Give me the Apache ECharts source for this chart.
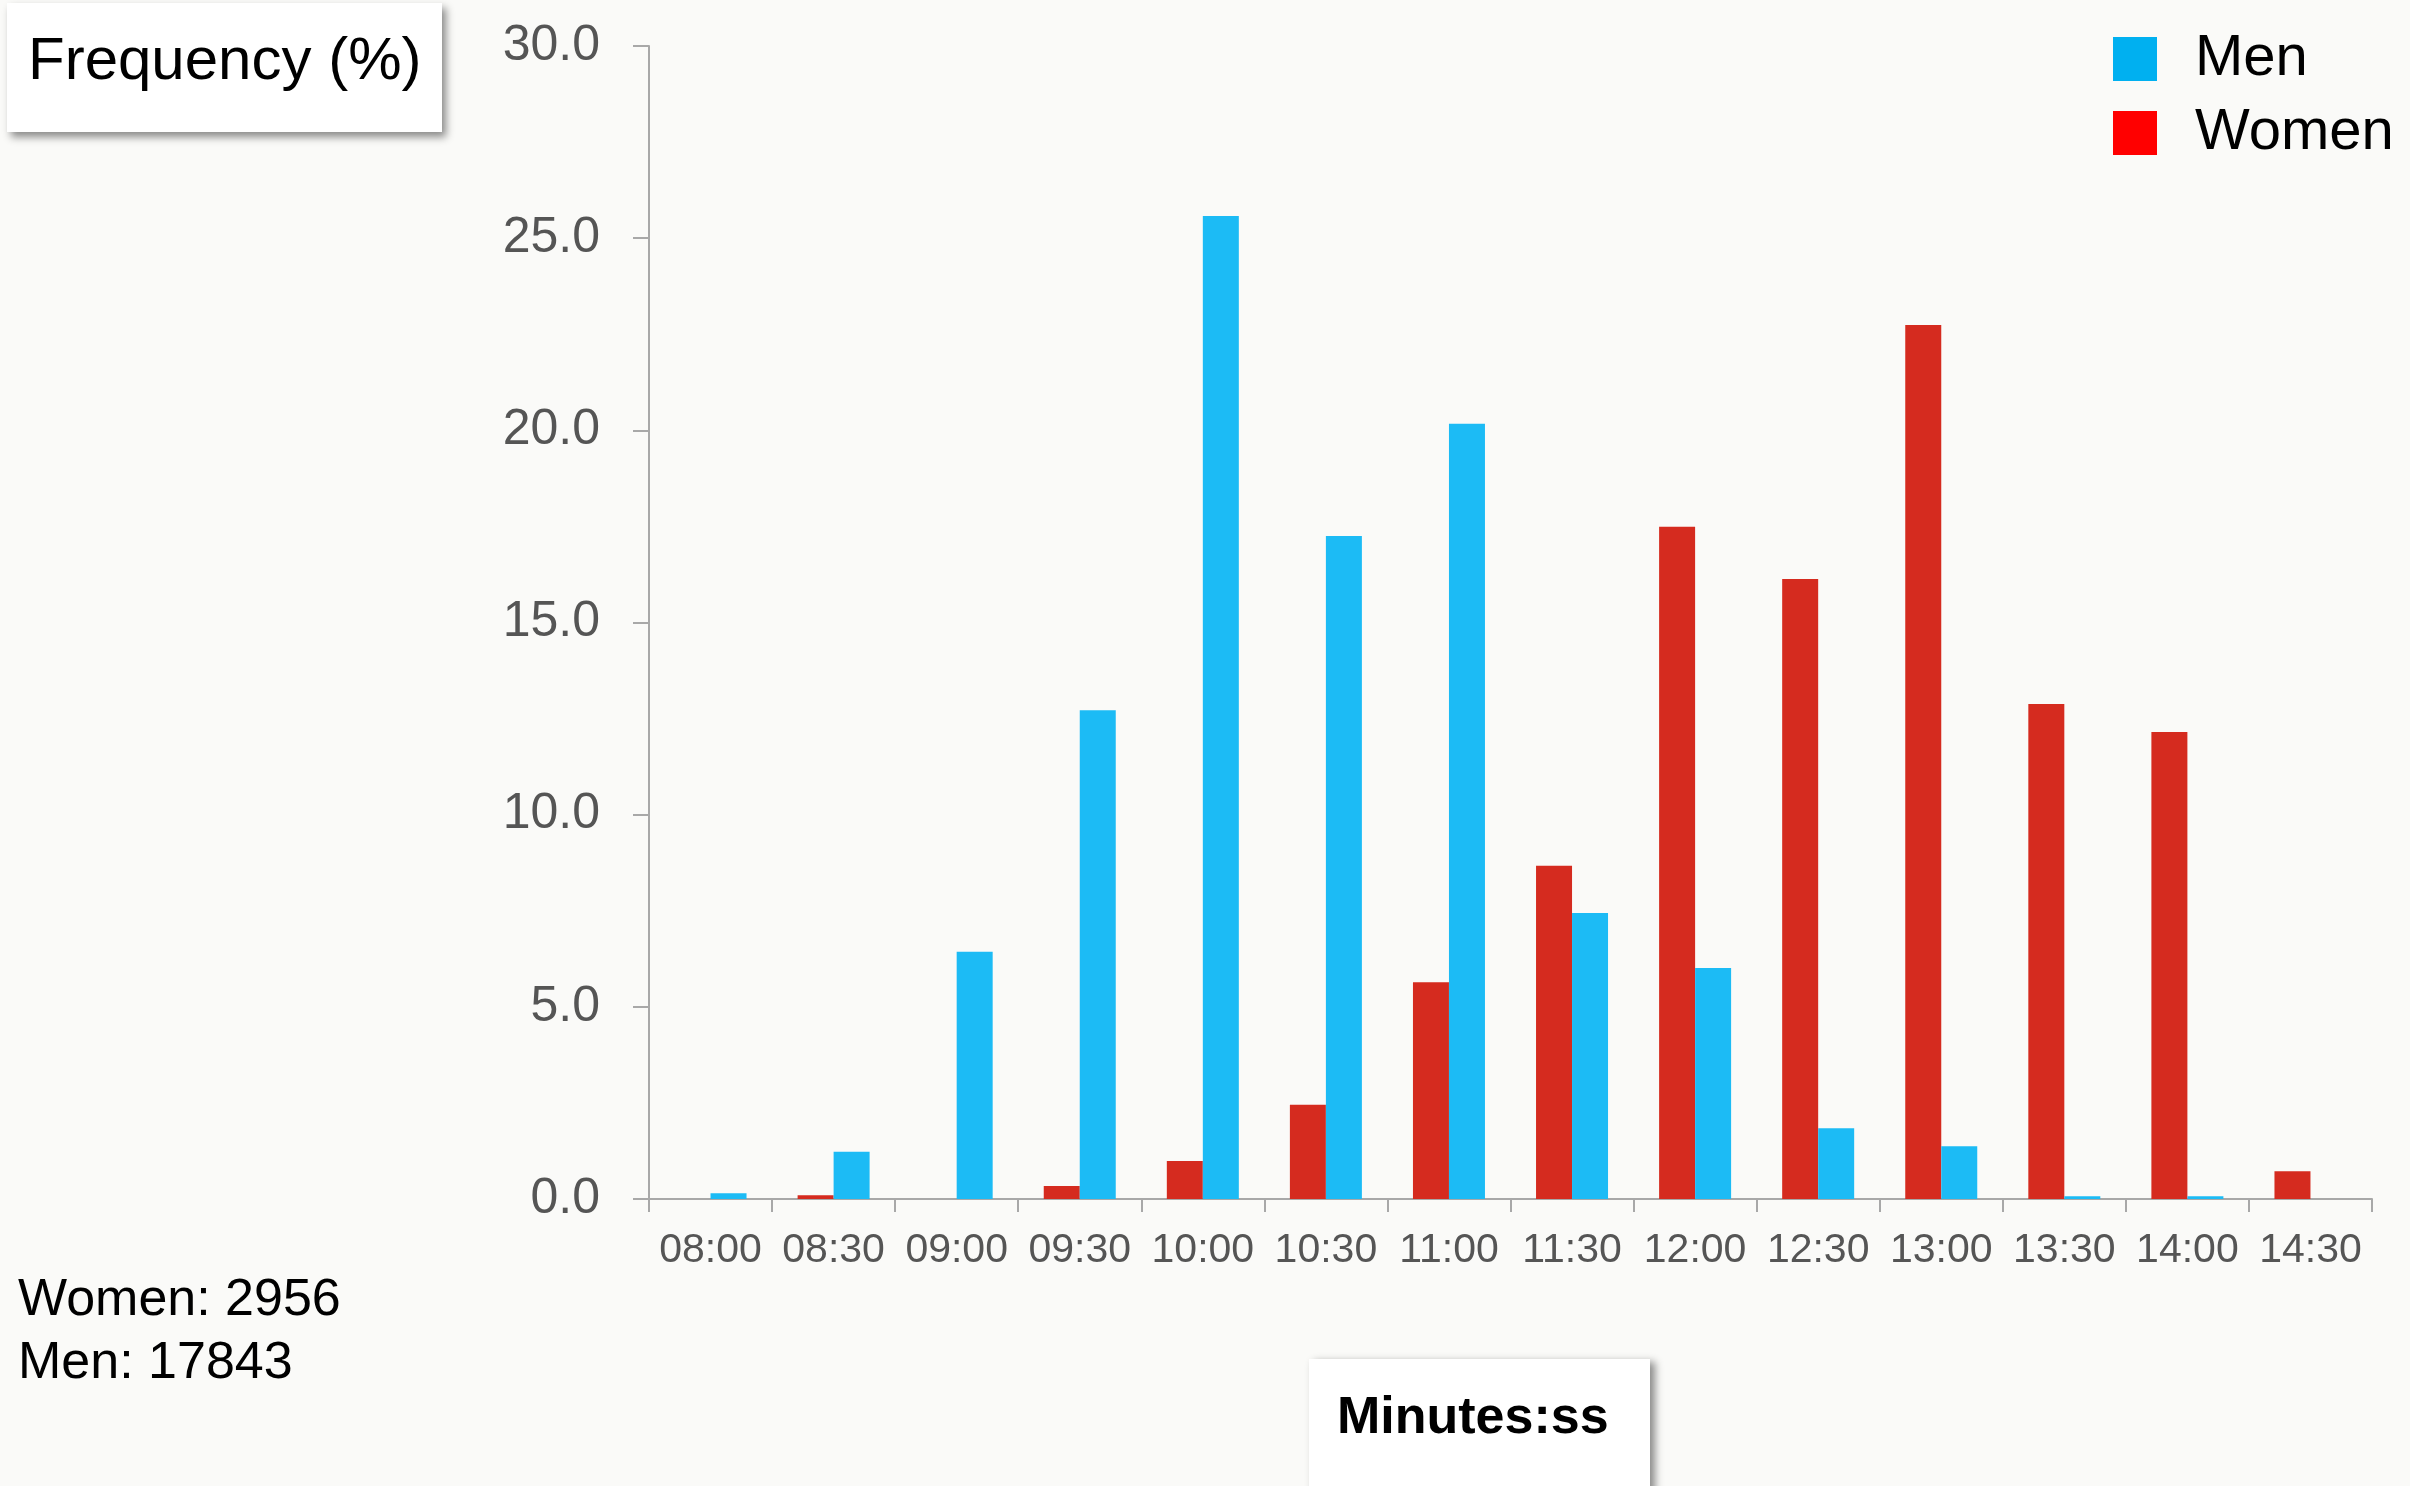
<!DOCTYPE html>
<html>
<head>
<meta charset="utf-8">
<script src="https://cdn.jsdelivr.net/npm/echarts@6/dist/echarts.min.js"></script>
<style>
html,body{margin:0;padding:0;background:#FAFAF8;}
#chart{width:2410px;height:1486px;}
</style>
</head>
<body>
<div id="chart"></div>
<script>
const categories = ['08:00','08:30','09:00','09:30','10:00','10:30','11:00','11:30','12:00','12:30','13:00','13:30','14:00','14:30'];
const menValues   = [0.15, 1.23, 6.43, 12.72, 25.58, 17.25, 20.17, 7.44, 6.01, 1.84, 1.37, 0.07, 0.07, 0];
const womenValues = [0, 0.1, 0, 0.34, 0.99, 2.45, 5.64, 8.67, 17.49, 16.13, 22.74, 12.88, 12.15, 0.72];
const yMin = 0, yMax = 30, yStep = 5;
const seriesNames = ['Men', 'Women'];
const countLines = ['Women: 2956', 'Men: 17843'];
const yTitle = 'Frequency (%)';
const xTitle = 'Minutes:ss';

const FONT = '"Liberation Sans", Arial, sans-serif';
const chart = echarts.init(document.getElementById('chart'), null, {renderer: 'canvas'});

chart.setOption({
  backgroundColor: '#FAFAF8',
  animation: false,
  textStyle: {fontFamily: FONT},
  grid: {left: 649, right: 38, top: 46, bottom: 287, containLabel: false},
  legend: {
    orient: 'vertical',
    left: 2113,
    top: 30,
    padding: 0,
    itemWidth: 44,
    itemHeight: 44,
    itemGap: 16,
    selectedMode: false,
    icon: 'rect',
    textStyle: {fontSize: 58, color: '#000', fontFamily: FONT, padding: [0, 0, 0, 33]},
    data: [
      {name: seriesNames[0], itemStyle: {color: '#00B0F0'}},
      {name: seriesNames[1], itemStyle: {color: '#FF0000'}}
    ]
  },
  xAxis: {
    type: 'category',
    data: categories,
    boundaryGap: true,
    axisLine: {lineStyle: {color: '#A8A8A8', width: 2}},
    axisTick: {show: true, length: 13, alignWithLabel: false, lineStyle: {color: '#A8A8A8', width: 2}},
    axisLabel: {
      interval: 0,
      margin: 31,
      fontSize: 41,
      fontFamily: FONT,
      color: '#555555'
    },
    splitLine: {show: false}
  },
  yAxis: {
    type: 'value',
    min: yMin,
    max: yMax,
    interval: yStep,
    axisLine: {show: true, lineStyle: {color: '#A8A8A8', width: 2}},
    axisTick: {show: true, length: 16, lineStyle: {color: '#A8A8A8', width: 2}},
    axisLabel: {
      margin: 49,
      fontSize: 50,
      fontFamily: FONT,
      color: '#555555',
      padding: [6, 0, 0, 0],
      formatter: v => v.toFixed(1)
    },
    splitLine: {show: false}
  },
  series: [
    {
      name: seriesNames[1],
      type: 'bar',
      data: womenValues,
      barWidth: 36,
      barGap: '0%',
      itemStyle: {color: '#D52B1F'}
    },
    {
      name: seriesNames[0],
      type: 'bar',
      data: menValues,
      barWidth: 36,
      barGap: '0%',
      itemStyle: {color: '#1CBBF5'}
    }
  ],
  graphic: [
    {
      type: 'rect',
      shape: {x: 7, y: 3, width: 435, height: 129},
      style: {fill: '#FFFFFF', shadowBlur: 8, shadowOffsetX: 4, shadowOffsetY: 5, shadowColor: 'rgba(0,0,0,0.45)'},
      z: 10
    },
    {
      type: 'text',
      style: {x: 28, y: 62, text: yTitle, fontSize: 60, fontFamily: FONT, fill: '#000', align: 'left', verticalAlign: 'middle'},
      z: 11
    },
    {
      type: 'rect',
      shape: {x: 1309, y: 1359, width: 341, height: 150},
      style: {fill: '#FFFFFF', shadowBlur: 8, shadowOffsetX: 5, shadowOffsetY: 3, shadowColor: 'rgba(0,0,0,0.45)'},
      z: 10
    },
    {
      type: 'text',
      style: {x: 1337, y: 1419, text: xTitle, fontSize: 52, fontWeight: 'bold', fontFamily: FONT, fill: '#000', align: 'left', verticalAlign: 'middle'},
      z: 11
    },
    {
      type: 'text',
      style: {x: 18, y: 1301, text: countLines[0], fontSize: 52, fontFamily: FONT, fill: '#000', align: 'left', verticalAlign: 'middle'},
      z: 11
    },
    {
      type: 'text',
      style: {x: 18, y: 1364, text: countLines[1], fontSize: 52, fontFamily: FONT, fill: '#000', align: 'left', verticalAlign: 'middle'},
      z: 11
    }
  ]
});
</script>
</body>
</html>
